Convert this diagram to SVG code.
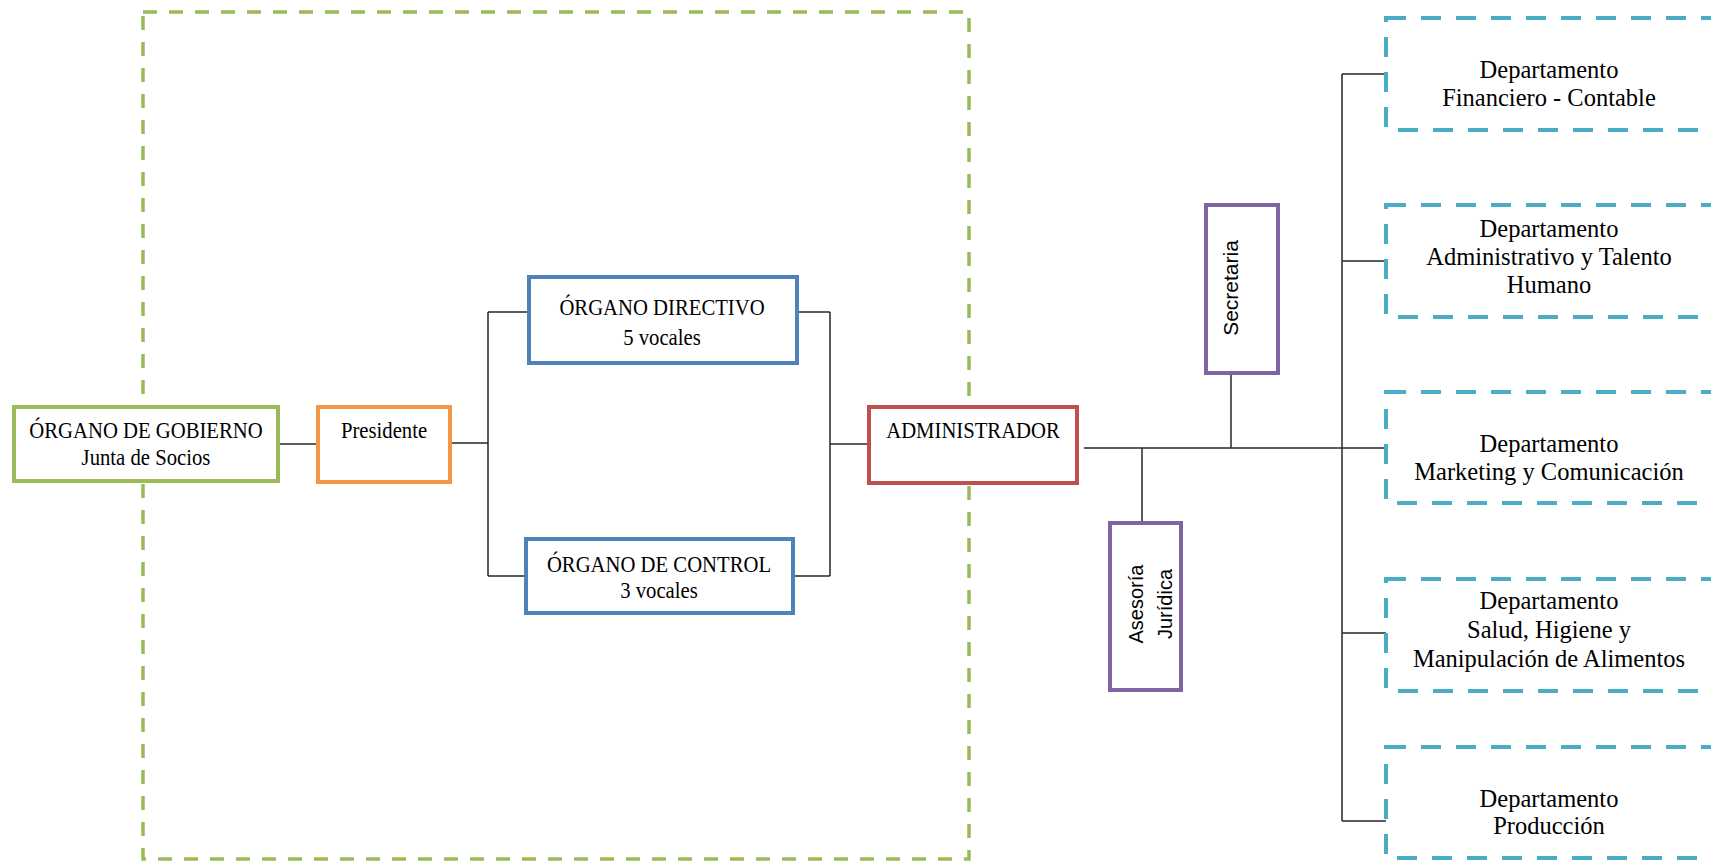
<svg xmlns="http://www.w3.org/2000/svg" width="1711" height="862" viewBox="0 0 1711 862">
<style>
.bg{fill:#ffffff}
.frame{fill:none;stroke:#9BBB59;stroke-width:3.5;stroke-dasharray:14 12}
.box{fill:#ffffff;stroke-width:4}
.g{stroke:#9BBB59}.o{stroke:#F79646}.b{stroke:#4F81BD}.r{stroke:#C0504D}.p{stroke:#8064A2}
.dept{fill:#ffffff;stroke:#4BACC6;stroke-width:4;stroke-dasharray:20 15}
.t{font-family:"Liberation Serif","Times New Roman",serif;fill:#000;text-anchor:middle}
.tl{font-size:23px}
.tr{font-size:24.5px}
.s{font-family:"Liberation Sans",Arial,sans-serif;fill:#000;text-anchor:middle}
.conn line{stroke:#262626;stroke-width:1.5}
</style>
<rect class="bg" x="0" y="0" width="1711" height="862"/>
<rect class="frame" x="143" y="12" width="826" height="847"/>
<g id="connectors" class="conn">
<line x1="278" y1="444" x2="318" y2="444"/>
<line x1="450" y1="443" x2="488" y2="443"/>
<line x1="488" y1="312" x2="488" y2="576"/>
<line x1="488" y1="312" x2="529" y2="312"/>
<line x1="488" y1="576" x2="526" y2="576"/>
<line x1="797" y1="312" x2="830" y2="312"/>
<line x1="793" y1="576" x2="830" y2="576"/>
<line x1="830" y1="312" x2="830" y2="576"/>
<line x1="830" y1="444" x2="869" y2="444"/>
<line x1="1084" y1="448" x2="1342" y2="448"/>
<line x1="1231" y1="373" x2="1231" y2="448"/>
<line x1="1142" y1="448" x2="1142" y2="523"/>
<line x1="1342" y1="74" x2="1342" y2="821"/>
<line x1="1342" y1="74" x2="1386" y2="74"/>
<line x1="1342" y1="261" x2="1386" y2="261"/>
<line x1="1342" y1="448" x2="1386" y2="448"/>
<line x1="1342" y1="633" x2="1386" y2="633"/>
<line x1="1342" y1="821" x2="1386" y2="821"/>
</g>
<g id="gobierno">
<rect class="box g" x="14" y="407" width="264" height="74"/>
<text class="t tl" transform="translate(146,438) scale(0.9,1)">ÓRGANO DE GOBIERNO</text>
<text class="t tl" transform="translate(146,465) scale(0.9,1)">Junta de Socios</text>
</g>
<g id="presidente">
<rect class="box o" x="318" y="407" width="132" height="75"/>
<text class="t tl" transform="translate(384,438) scale(0.9,1)">Presidente</text>
</g>
<g id="directivo">
<rect class="box b" x="529" y="277" width="268" height="86"/>
<text class="t tl" transform="translate(662,315) scale(0.9,1)">ÓRGANO DIRECTIVO</text>
<text class="t tl" transform="translate(662,345) scale(0.9,1)">5 vocales</text>
</g>
<g id="control">
<rect class="box b" x="526" y="539" width="267" height="74"/>
<text class="t tl" transform="translate(659,572) scale(0.9,1)">ÓRGANO DE CONTROL</text>
<text class="t tl" transform="translate(659,598) scale(0.9,1)">3 vocales</text>
</g>
<g id="administrador">
<rect class="box r" x="869" y="407" width="208" height="76"/>
<text class="t tl" transform="translate(973,438) scale(0.9,1)">ADMINISTRADOR</text>
</g>
<g id="secretaria">
<rect class="box p" x="1206" y="205" width="72" height="168"/>
<text class="s" font-size="21" transform="translate(1238,288) rotate(-90)">Secretaria</text>
</g>
<g id="asesoria">
<rect class="box p" x="1110" y="523" width="71" height="167"/>
<text class="s" font-size="20" transform="translate(1143,604) rotate(-90)"><tspan x="0" y="0">Asesoría</tspan><tspan x="0" y="29">Jurídica</tspan></text>
</g>
<g id="dept-financiero">
<rect class="dept" x="1386" y="18" width="345" height="112"/>
<text class="t tr" x="1549" y="78">Departamento</text>
<text class="t tr" x="1549" y="106">Financiero - Contable</text>
</g>
<g id="dept-administrativo">
<rect class="dept" x="1386" y="205" width="345" height="112"/>
<text class="t tr" x="1549" y="237">Departamento</text>
<text class="t tr" x="1549" y="265">Administrativo y Talento</text>
<text class="t tr" x="1549" y="293">Humano</text>
</g>
<g id="dept-marketing">
<rect class="dept" x="1386" y="392" width="345" height="111"/>
<text class="t tr" x="1549" y="452">Departamento</text>
<text class="t tr" x="1549" y="480">Marketing y Comunicación</text>
</g>
<g id="dept-salud">
<rect class="dept" x="1386" y="579" width="345" height="112"/>
<text class="t tr" x="1549" y="609">Departamento</text>
<text class="t tr" x="1549" y="638">Salud, Higiene y</text>
<text class="t tr" x="1549" y="667">Manipulación de Alimentos</text>
</g>
<g id="dept-produccion">
<rect class="dept" x="1386" y="747" width="345" height="111"/>
<text class="t tr" x="1549" y="807">Departamento</text>
<text class="t tr" x="1549" y="834">Producción</text>
</g>
</svg>
